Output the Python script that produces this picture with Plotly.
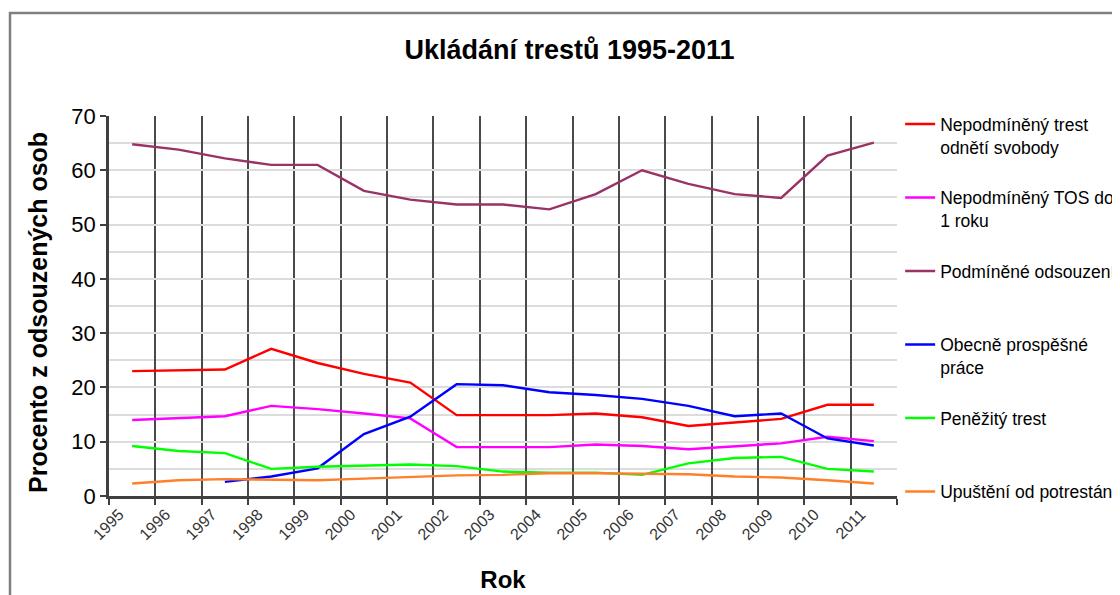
import plotly.graph_objects as go

years = [str(y) for y in range(1995, 2012)]

nepodminene_tos = [23.0, 23.1, 23.3, 27.1, 24.5, 22.5, 20.9, 14.9, 14.9, 14.9, 15.2, 14.5, 12.9, 13.5, 14.2, 16.8, 16.8]
tos_do_1_roku = [14.0, 14.3, 14.7, 16.6, 16.0, 15.2, 14.3, 9.0, 9.0, 9.0, 9.5, 9.2, 8.6, 9.2, 9.7, 10.9, 10.1]
podminene = [64.8, 63.8, 62.2, 61.0, 61.0, 56.2, 54.6, 53.7, 53.7, 52.8, 55.6, 60.0, 57.5, 55.6, 54.9, 62.7, 65.1]
obecne_prace = [None, None, 2.6, 3.6, 5.1, 11.4, 14.6, 20.6, 20.4, 19.1, 18.6, 17.9, 16.6, 14.7, 15.2, 10.6, 9.3]
penezity = [9.2, 8.3, 7.9, 5.0, 5.4, 5.6, 5.8, 5.5, 4.5, 4.3, 4.3, 3.9, 6.0, 7.0, 7.2, 5.0, 4.5]
upusteni = [2.3, 2.9, 3.1, 3.0, 2.9, 3.2, 3.5, 3.8, 3.9, 4.2, 4.2, 4.1, 4.0, 3.6, 3.4, 2.9, 2.3]

series = [
    ("Nepodmíněný trest<br>odnětí svobody", nepodminene_tos, "#FF0000"),
    ("Nepodmíněný TOS do<br>1 roku", tos_do_1_roku, "#FF00FF"),
    ("Podmíněné odsouzení<br> ", podminene, "#993366"),
    ("Obecně prospěšné<br>práce", obecne_prace, "#0000FF"),
    ("Peněžitý trest<br> ", penezity, "#00FF00"),
    ("Upuštění od potrestání<br> ", upusteni, "#FF7F2A"),
]

fig = go.Figure()
for i, (name, vals, col) in enumerate(series):
    fig.add_trace(go.Scatter(
        x=years, y=vals, name=name, mode="lines",
        line=dict(color=col, width=2.4),
        legendgroup=f"g{i}", connectgaps=False,
    ))

FONT = "Liberation Sans, Arial, sans-serif"

# page body has an 8px margin; figure is sized so it ends at the window edge
W, H = 1112, 587
L, R, T, B = 101, 223, 108, 99
PW, PH = W - L - R, H - T - B

fig.update_layout(
    width=W, height=H,
    paper_bgcolor="white", plot_bgcolor="white",
    margin=dict(l=L, r=R, t=T, b=B, autoexpand=False),
    font=dict(family=FONT, color="#000000"),
    title=dict(text="<b>Ukládání trestů 1995-2011</b>", x=0.505, xanchor="center",
               y=(H - 42) / H, yanchor="middle", font=dict(size=27, family=FONT, color="#000")),
    showlegend=True,
    legend=dict(x=1.004, xanchor="left", y=1.026, yanchor="top",
                font=dict(size=17.5, family=FONT, color="#000"),
                valign="top", tracegroupgap=25, bgcolor="rgba(0,0,0,0)",
                traceorder="grouped", maxheight=580),
    xaxis=dict(
        type="category", tickson="boundaries", range=[-0.5, 16.5],
        showgrid=True, gridcolor="#4A4A4A", gridwidth=1.8,
        showline=True, linecolor="#404040", linewidth=2.8,
        ticks="outside", ticklen=6, tickcolor="#404040", tickwidth=1.8,
        tickangle=-45, tickfont=dict(size=16, family=FONT, color="#333"),
        ticklabelshift=-13,
        title=dict(text="<b>Rok</b>", font=dict(size=24, family=FONT, color="#000"), standoff=30),
        zeroline=False,
    ),
    yaxis=dict(
        range=[0, 70], dtick=10, tick0=0,
        showgrid=True, gridcolor="#DCDCDC", gridwidth=1.6,
        minor=dict(dtick=5, showgrid=True, gridcolor="#DCDCDC", gridwidth=1.6, ticks=""),
        showline=True, linecolor="#404040", linewidth=2.8,
        ticks="outside", ticklen=6, tickcolor="#404040", tickwidth=1.8,
        tickfont=dict(size=22, family=FONT, color="#000"),
        zeroline=False,
    ),
)

# y-axis title placed like the original (slightly below the plot centre)
fig.add_annotation(text="<b>Procento z odsouzených osob</b>", textangle=-90,
                   xref="paper", yref="paper",
                   x=(38 - 8 - L) / PW, y=(T + PH - (313 - 8)) / PH,
                   xanchor="center", yanchor="middle", showarrow=False,
                   font=dict(size=25, family=FONT, color="#000"))

# outer chart frame
fig.add_shape(type="rect", xref="paper", yref="paper",
              x0=(2 - L) / PW, x1=(1125 - L) / PW,
              y0=(T + PH - 610) / PH, y1=(T + PH - 5) / PH,
              line=dict(color="#7F7F7F", width=2.5), fillcolor="rgba(0,0,0,0)", layer="below")

fig.write_html("out.html")
